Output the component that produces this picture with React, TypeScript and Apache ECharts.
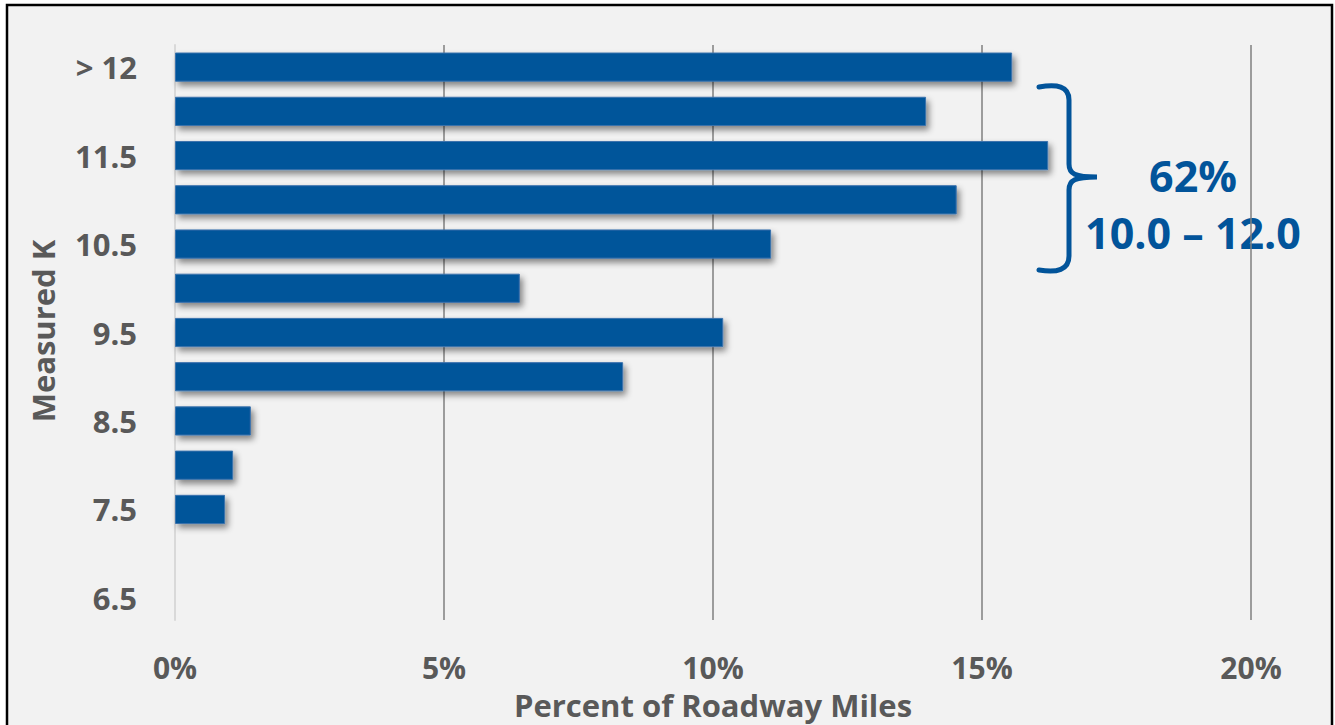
import React, { useEffect, useRef } from "react";
import * as echarts from "echarts";

const categories = ["6.5", "7", "7.5", "8", "8.5", "9", "9.5", "10", "10.5", "11", "11.5", "12", "> 12"];
const percentValues = [null, null, 0.93, 1.08, 1.41, 8.33, 10.19, 6.41, 11.08, 14.53, 16.23, 13.96, 15.56];
const xTicks = [0, 5, 10, 15, 20];
const calloutLines = ["62%", "10.0 \u2013 12.0"];

const FONT = "'Open Sans', 'Noto Sans', sans-serif";
const GRAY = "#595959";
const BLUE = "#02549a";

const bracePath =
  "M0,3 C18,0 30,2 30,16 L30,80 C30,90 36,93 58,93 C36,93 30,96 30,106 L30,172 C30,186 18,189 0,186";

echarts.graphic.registerShape("brace", echarts.graphic.extendPath(bracePath, {}));

export default function App() {
  const ref = useRef<HTMLDivElement>(null);
  useEffect(() => {
    if (!ref.current) return;
    const chart = echarts.init(ref.current, null, { renderer: "svg" });
    chart.setOption({
      animation: false,
      backgroundColor: "#ffffff",
      grid: { left: 175, right: 84, top: 45, bottom: 105, containLabel: false },
      xAxis: {
        type: "value",
        min: xTicks[0],
        max: xTicks[xTicks.length - 1],
        interval: 5,
        axisLine: { show: false },
        axisTick: { show: false },
        splitLine: { show: true, showMinLine: false, lineStyle: { color: "#7f7f7f", width: 1.5 } },
        axisLabel: {
          margin: 34,
          color: GRAY,
          fontFamily: FONT,
          fontWeight: "bold",
          fontSize: 30,
          lineHeight: 27,
          formatter: (v: number) => v + "%",
        },
      },
      yAxis: {
        type: "category",
        data: categories,
        axisLine: { show: true, lineStyle: { color: "#d9d9d9", width: 2 } },
        axisTick: { show: false },
        axisLabel: {
          interval: 1,
          margin: 38,
          color: GRAY,
          fontFamily: FONT,
          fontWeight: "bold",
          fontSize: 31,
          lineHeight: 30,
        },
      },
      series: [
        {
          type: "bar",
          data: percentValues,
          barCategoryGap: "34%",
          itemStyle: {
            color: BLUE,
            borderColor: "#3b73ad",
            borderWidth: 1,
            shadowBlur: 6,
            shadowOffsetX: 3,
            shadowOffsetY: 4,
            shadowColor: "rgba(0,0,0,0.45)",
          },
        },
      ],
      graphic: [
        {
          type: "rect",
          z: -10,
          shape: { x: 7, y: 5, width: 1325, height: 740 },
          style: { fill: "#f2f2f2", stroke: "#000000", lineWidth: 2.5 },
          silent: true,
        },
        {
          type: "text",
          x: 713,
          y: 705,
          style: {
            text: "Percent of Roadway Miles",
            fill: GRAY,
            font: "bold 31px " + FONT,
            lineHeight: 27,
            textAlign: "center",
            textVerticalAlign: "middle",
          },
        },
        {
          type: "text",
          x: 43,
          y: 331,
          rotation: Math.PI / 2,
          style: {
            text: "Measured K",
            fill: GRAY,
            font: "bold 31px " + FONT,
            lineHeight: 30,
            textAlign: "center",
            textVerticalAlign: "middle",
          },
        },
        {
          type: "brace",
          x: 1039,
          y: 84,
          style: { stroke: BLUE, fill: null, lineWidth: 5, lineCap: "round" },
        },
        {
          type: "text",
          x: 1193,
          y: 175,
          style: {
            text: calloutLines[0],
            fill: BLUE,
            font: "bold 43px " + FONT,
            textAlign: "center",
            textVerticalAlign: "middle",
          },
        },
        {
          type: "text",
          x: 1193,
          y: 232,
          style: {
            text: calloutLines[1],
            fill: BLUE,
            font: "bold 43px " + FONT,
            textAlign: "center",
            textVerticalAlign: "middle",
          },
        },
      ],
    });
    return () => chart.dispose();
  }, []);
  return (
    <div
      ref={ref}
      style={{ position: "absolute", left: 0, top: 0, width: 1335, height: 725 }}
    />
  );
}
